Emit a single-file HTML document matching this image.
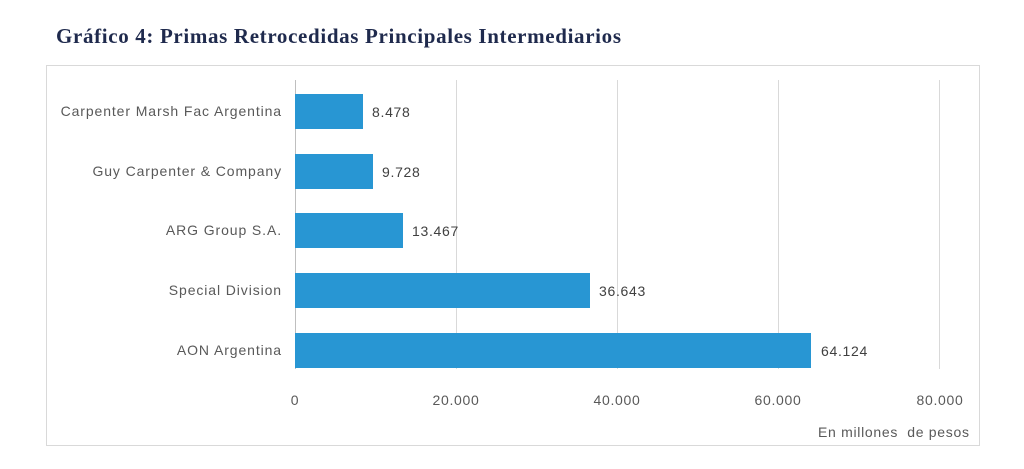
<!DOCTYPE html>
<html><head><style>
body{margin:0;width:1024px;height:469px;background:#fff;position:relative;overflow:hidden;font-family:"Liberation Sans",sans-serif}
.t{position:absolute;left:56px;top:24px;font-family:"Liberation Serif",serif;font-weight:bold;font-size:21px;letter-spacing:0.65px;color:#1f2a4d}
.box{position:absolute;left:46px;top:65px;width:934px;height:381px;border:1px solid #d9d9d9;box-sizing:border-box}
.g{position:absolute;top:80px;height:289px;width:1px;background:#d9d9d9}
.b{position:absolute;left:295px;height:35px;background:#2896d3}
.l{position:absolute;right:742px;font-size:14px;letter-spacing:0.9px;color:#595959;text-align:right;white-space:nowrap}
.v{position:absolute;font-size:14px;letter-spacing:0.7px;color:#404040}
.x{position:absolute;top:392px;font-size:14px;letter-spacing:0.7px;color:#595959;transform:translateX(-50%)}
</style></head><body>
<div class="t">Gráfico 4: Primas Retrocedidas Principales Intermediarios</div>
<div class="box"></div>
<div class="g" style="left:295px;background:#bfbfbf"></div>
<div class="g" style="left:456px"></div>
<div class="g" style="left:617px"></div>
<div class="g" style="left:778px"></div>
<div class="g" style="left:939px"></div>
<div class="b" style="top:94px;width:68px"></div>
<div class="b" style="top:154px;width:78px"></div>
<div class="b" style="top:213px;width:108px"></div>
<div class="b" style="top:273px;width:295px"></div>
<div class="b" style="top:333px;width:516px"></div>
<div class="l" style="top:103px">Carpenter Marsh Fac Argentina</div>
<div class="l" style="top:163px">Guy Carpenter &amp; Company</div>
<div class="l" style="top:222px">ARG Group S.A.</div>
<div class="l" style="top:282px">Special Division</div>
<div class="l" style="top:342px">AON Argentina</div>
<div class="v" style="top:104px;left:372px">8.478</div>
<div class="v" style="top:164px;left:382px">9.728</div>
<div class="v" style="top:223px;left:412px">13.467</div>
<div class="v" style="top:283px;left:599px">36.643</div>
<div class="v" style="top:343px;left:821px">64.124</div>
<div class="x" style="left:295px">0</div>
<div class="x" style="left:456px">20.000</div>
<div class="x" style="left:617px">40.000</div>
<div class="x" style="left:778px">60.000</div>
<div class="x" style="left:940px">80.000</div>
<div class="v" style="top:424px;left:818px;color:#595959">En millones&nbsp; de pesos</div>
</body></html>
